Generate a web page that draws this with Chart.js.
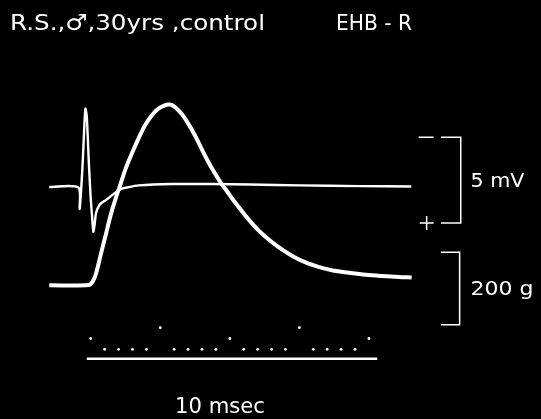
<!DOCTYPE html>
<html>
<head>
<meta charset="utf-8">
<script src="https://cdn.jsdelivr.net/npm/chart.js@4"></script>
<style>
  html, body { margin: 0; padding: 0; background: #000; }
  #wrap { width: 541px; height: 419px; }
</style>
</head>
<body>
<div id="wrap"><canvas id="trace" width="541" height="419"></canvas></div>
<script>
// time in msec (0 = first timing mark)
const ecgTime = [-2.98, -0.89, -0.80, -0.69, -0.57, -0.46, -0.38, -0.28, -0.14, 0, 0.09, 0.19, 0.28, 0.38, 0.62, 0.85, 1.09, 1.68, 2.15, 2.62, 3.45, 5.82, 8.65, 11.49, 15.04, 19.29, 23.05];
// EHB potential, mV (negative up)
const ecgMv = [0, 0.03, 1.29, 0.2, -1.52, -3.52, -4.58, -4.10, -1.52, 0.66, 1.63, 2.61, 2.21, 1.54, 1.06, 0.89, 0.77, 0.39, 0.13, 0.03, -0.09, -0.17, -0.17, -0.14, -0.09, -0.05, -0.03];

const forceTime = [-2.98, -0.14, 0.14, 0.38, 0.73, 1.09, 1.44, 1.79, 2.15, 2.50, 2.98, 3.45, 3.92, 4.40, 4.87, 5.34, 5.60, 5.82, 6.05, 6.52, 7.00, 7.47, 7.94, 8.42, 8.89, 9.36, 9.84, 10.30, 10.85, 11.47, 12.06, 12.65, 13.26, 13.85, 14.52, 15.49, 16.44, 17.40, 18.58, 19.77, 20.94, 22.13, 23.07];
// twitch force, g
const forceG = [0, 0.5, 10, 31.6, 85.7, 139.7, 193.8, 238.9, 279.5, 320, 364.9, 405.4, 441.6, 468.6, 486.5, 495.7, 497.8, 497, 491, 473, 446, 414.6, 378.4, 342.4, 310.8, 282.2, 256.8, 232, 205, 176, 151, 131, 112, 96, 80, 62, 50, 40.5, 34.3, 28.9, 25.4, 22.7, 21.6];

// timing marks: 1 ms dots, longer marks every 5 and 10 ms
const markMs = [0, 1, 2, 3, 4, 5, 6, 7, 8, 9, 10, 11, 12, 13, 14, 15, 16, 17, 18, 19, 20];
const markLevel = [1, 0, 0, 0, 0, 2, 0, 0, 0, 0, 1, 0, 0, 0, 0, 2, 0, 0, 0, 0, 1];

// calibration brackets
const calMv = [-2.9, 2.1];     // 5 mV
const calG = [-109, 91];       // 200 g

const pts = (xs, ys) => xs.map((x, i) => ({ x: x, y: ys[i] }));

// draw text stretched horizontally to a given width
function fitText(ctx, txt, x, y, size, width) {
  ctx.font = size + 'px "DejaVu Sans", sans-serif';
  const w = ctx.measureText(txt).width;
  ctx.save();
  ctx.translate(x, y);
  ctx.scale(width / w, 1);
  ctx.fillText(txt, 0, 0);
  ctx.restore();
}

const overlay = {
  id: 'overlay',
  afterDatasetsDraw(chart) {
    const ctx = chart.ctx;
    const sx = chart.scales.x, sm = chart.scales.mv, sg = chart.scales.g;
    ctx.save();
    ctx.fillStyle = '#fff';
    ctx.strokeStyle = '#fff';
    ctx.textBaseline = 'alphabetic';
    ctx.textAlign = 'left';
    fitText(ctx, 'R.S.,\u2642,30yrs ,control', 10, 30, 22, 255);
    fitText(ctx, 'EHB - R', 336, 30, 22, 76);

    const bx = sx.getPixelForValue(27.3);
    fitText(ctx, '5 mV', bx, (sm.getPixelForValue(calMv[0]) + sm.getPixelForValue(calMv[1])) / 2 + 7, 20, 54);
    fitText(ctx, '200 g', bx, (sg.getPixelForValue(calG[0]) + sg.getPixelForValue(calG[1])) / 2 + 7, 20, 63);
    fitText(ctx, '10 msec', 175, 413, 21, 90);

    // polarity signs of the mV calibration
    const px = sx.getPixelForValue(24.15);
    const yTop = sm.getPixelForValue(calMv[0]);
    const yBot = sm.getPixelForValue(calMv[1]);
    ctx.lineWidth = 1.5;
    ctx.beginPath();
    ctx.moveTo(px - 8, yTop); ctx.lineTo(px + 7, yTop);
    ctx.moveTo(px - 7, yBot); ctx.lineTo(px + 7, yBot);
    ctx.moveTo(px, yBot - 7); ctx.lineTo(px, yBot + 7);
    ctx.stroke();
    ctx.restore();
  }
};

const bracket = (x0, x1, lo, hi) => [{ x: x0, y: lo }, { x: x1, y: lo }, { x: x1, y: hi }, { x: x0, y: hi }];

new Chart(document.getElementById('trace'), {
  type: 'line',
  data: {
    datasets: [
      {
        label: 'EHB potential',
        data: pts(ecgTime, ecgMv),
        yAxisID: 'mv',
        borderColor: '#fff',
        borderWidth: 2.4,
        pointRadius: 0,
        tension: 0.25
      },
      {
        label: 'force',
        data: pts(forceTime, forceG),
        yAxisID: 'g',
        borderColor: '#fff',
        borderWidth: 4,
        pointRadius: 0,
        tension: 0.35
      },
      {
        label: 'timing',
        data: pts(markMs, markLevel),
        yAxisID: 'tm',
        showLine: false,
        pointRadius: 1.4,
        pointBackgroundColor: '#fff',
        pointBorderWidth: 0
      },
      {
        label: 'time base',
        data: [{ x: -0.28, y: -0.88 }, { x: 20.6, y: -0.88 }],
        yAxisID: 'tm',
        borderColor: '#fff',
        borderWidth: 2.5,
        pointRadius: 0
      },
      {
        label: 'cal mV',
        data: bracket(25.18, 26.6, calMv[0], calMv[1]),
        yAxisID: 'mv',
        borderColor: '#fff',
        borderWidth: 1.5,
        pointRadius: 0
      },
      {
        label: 'cal g',
        data: bracket(25.18, 26.52, calG[0], calG[1]),
        yAxisID: 'g',
        borderColor: '#fff',
        borderWidth: 1.5,
        pointRadius: 0
      }
    ]
  },
  options: {
    responsive: false,
    animation: false,
    events: [],
    layout: { padding: 0 },
    plugins: {
      legend: { display: false },
      tooltip: { enabled: false }
    },
    scales: {
      x: { type: 'linear', min: -88 / 14.12, max: (541 - 88) / 14.12, display: false },
      mv: { type: 'linear', reverse: true, min: -186.5 / 17.45, max: (419 - 186.5) / 17.45, display: false },
      g: { type: 'linear', min: (286.7 - 419) / 0.37, max: 286.7 / 0.37, display: false },
      tm: { type: 'linear', min: (352 - 419) / 11, max: 352 / 11, display: false }
    }
  },
  plugins: [overlay]
});
</script>
</body>
</html>
